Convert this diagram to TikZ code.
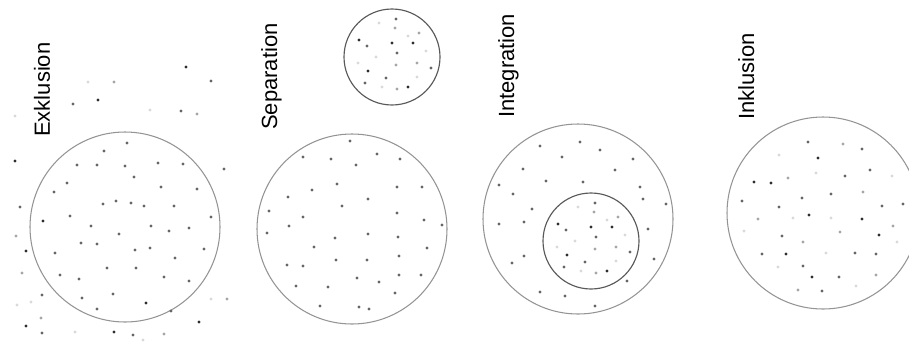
\documentclass[tikz,border=0pt]{standalone}
\usepackage{fontspec}
\setmainfont{Liberation Sans}
\usepackage{tikz}

\colorlet{dotd}{black!82}
\colorlet{dotm}{black!60}
\colorlet{dotl}{black!35}
\colorlet{dotv}{black!15}

% dots of the small group, relative to its centre
\def\subdots{4/-38/m,3/-29/l,-13/-34/v,27/-24/l,16/-21/v,-33/-17/d,-25/-11/m,0/-14/d,21/-14/d,5/-4/m,34/-6/v,-16/0/v,25/6/l,4/8/l,39/11/m,-24/14/d,-6/21/m,-27/26/m,5/32/l,16/30/d,25/20/v,-10/30/v,-34/6/v}

\begin{document}
\begin{tikzpicture}[x=0.02cm,y=-0.02cm,font=\fontsize{12.5}{15}\selectfont,
  lbl/.style={rotate=90,anchor=base west,inner sep=0pt},
  ring/.style={draw=black!42,line width=0.6pt},
  subring/.style={draw=black!65,line width=0.65pt}]
\useasboundingbox (0,0) rectangle (909,345);
\clip (0,0) rectangle (909,345);

\node[lbl] (exkl) at (50,137) {Exklusion};
\node[lbl] (sepa) at (277,130) {Separation};
\node[lbl] (integ) at (514,118) {Integration};
\node[lbl] (inkl) at (754,120) {Inklusion};

\draw[ring] (125,227) circle[radius=95];
\draw[ring] (352,229) circle[radius=95];
\draw[subring] (392,57) circle[radius=48];
\draw[ring] (578,219) circle[radius=95];
\draw[subring] (591,241) circle[radius=48];
\draw[ring] (823,213) circle[radius=96];

\foreach \x/\y/\c in {186/67/d,211/81/m,114/82/l,88/82/v,98/100/d,73/104/m,181/111/m,197/114/l,150/110/v,15/116/v,
  15/161/d,224/169/m,20/207/m,16/236/l,26/251/d,22/273/l,227/299/l,211/299/v,41/318/l,26/326/d,199/322/d,42/333/m,
  114/332/d,133/335/m,164/334/l,42/295/m,17/305/v,31/302/v,75/332/v,143/340/v,
  127/143/m,104/151/m,77/165/m,97/165/m,125/166/m,158/163/m,183/164/m,134/177/m,67/183/m,161/187/m,54/192/m,197/189/m,
  103/204/m,116/201/m,131/203/m,144/206/m,174/206/m,70/216/m,211/217/m,43/221/d,91/226/m,151/226/m,169/231/m,189/228/m,
  119/234/m,81/243/m,97/244/m,135/250/m,150/248/m,204/249/m,55/253/m,175/258/m,107/268/m,136/268/m,60/275/m,79/279/m,
  164/277/m,189/281/m,113/294/m,82/298/m,97/309/m,146/303/d,171/311/m}
  \fill[fill=dot\c] (\x,\y) circle[radius=1.7];

\foreach \x/\y/\c in {350/141/m,303/157/m,331/159/m,377/154/m,356/165/m,400/159/m,337/184/m,312/190/m,397/187/m,422/187/m,
  288/197/m,368/199/m,342/206/m,269/211/m,303/217/m,397/213/m,424/220/m,289/226/m,442/225/m,267/233/m,368/234/m,335/238/m,
  398/237/m,314/247/m,427/248/m,336/260/m,367/260/m,399/256/m,287/265/m,303/266/m,357/278/m,379/282/m,399/275/m,421/275/m,
  296/286/m,328/287/m,395/293/m,320/306/m,359/307/m,369/309/m}
  \fill[fill=dot\c] (\x,\y) circle[radius=1.7];

\foreach \x/\y/\c in {580/142/m,540/146/m,600/150/m,562/157/m,633/159/m,523/169/m,615/170/m,546/181/m,583/182/m,499/185/m,
  640/187/m,513/194/m,643/199/m,666/204/m,532/209/m,524/222/m,499/224/m,648/229/m,524/256/m,654/259/m,512/263/m,627/281/m,
  540/292/m,565/296/m,595/306/m}
  \fill[fill=dot\c] (\x,\y) circle[radius=1.7];

\begin{scope}[shift={(392,57)}]
\foreach \x/\y/\c in \subdots
  \fill[fill=dot\c] (\x,\y) circle[radius=1.7];
\end{scope}
\begin{scope}[shift={(591,241)}]
\foreach \x/\y/\c in \subdots
  \fill[fill=dot\c] (\x,\y) circle[radius=1.7];
\end{scope}

\foreach \x/\y/\c in {808/142/m,843/144/l,862/149/m,818/158/d,779/155/v,816/173/v,870/170/m,845/176/m,788/178/l,754/182/d,
  771/183/d,892/176/v,863/192/l,802/198/m,831/194/m,742/201/m,779/207/m,882/206/m,903/204/m,809/215/d,758/219/l,793/218/v,
  831/218/v,862/219/d,893/226/l,744/231/v,840/232/l,879/235/d,782/236/m,803/242/l,897/242/v,762/254/m,786/254/d,826/253/v,
  855/253/m,876/254/m,778/267/v,803/266/m,812/277/d,839/277/m,876/275/l,856/286/v,798/290/l,822/291/m}
  \fill[fill=dot\c] (\x,\y) circle[radius=1.7];
\end{tikzpicture}
\end{document}
